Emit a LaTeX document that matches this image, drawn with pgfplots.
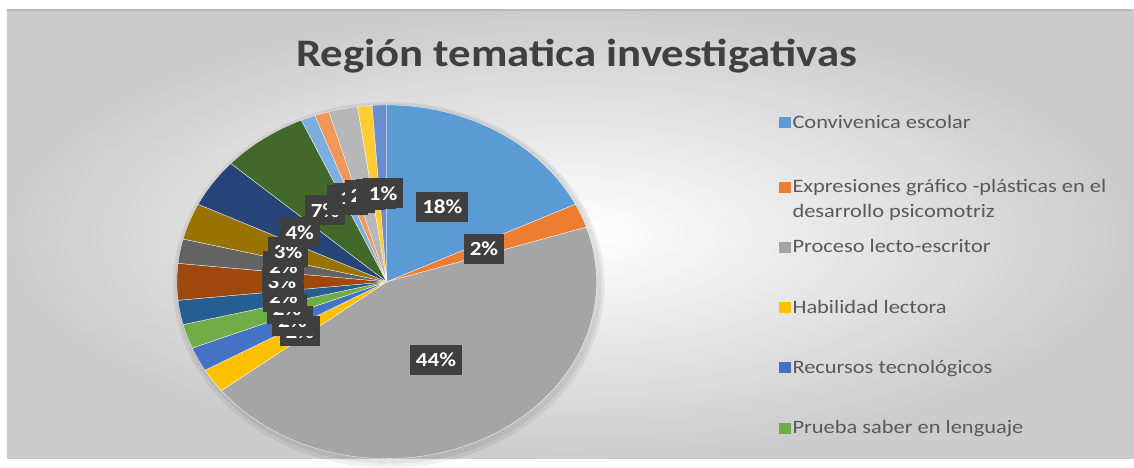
\documentclass[border=0pt]{standalone}
\usepackage{fontspec}
\setmainfont{Carlito}
\usepackage{graphicx}
\usepackage{pgfplots}
\pgfplotsset{compat=1.18}
\usepackage{pgfplotstable}
\definecolor{c0}{HTML}{5B9BD5}
\definecolor{c1}{HTML}{ED7D31}
\definecolor{c2}{HTML}{A5A5A5}
\definecolor{c3}{HTML}{FFC000}
\definecolor{c4}{HTML}{4472C4}
\definecolor{c5}{HTML}{70AD47}
\definecolor{c6}{HTML}{255E91}
\definecolor{c7}{HTML}{9E480E}
\definecolor{c8}{HTML}{636363}
\definecolor{c9}{HTML}{997300}
\definecolor{c10}{HTML}{264478}
\definecolor{c11}{HTML}{43682B}
\definecolor{c12}{HTML}{7CAFDD}
\definecolor{c13}{HTML}{F1975A}
\definecolor{c14}{HTML}{B7B7B7}
\definecolor{c15}{HTML}{FFCD33}
\definecolor{c16}{HTML}{698ED0}
\definecolor{txt}{HTML}{595959}
\definecolor{ttl}{HTML}{404040}
\definecolor{lbl}{HTML}{3F3F3F}

\begin{document}
% n = count of works per theme, pct = percentage shown on the chart
\pgfplotstableread{
n  pct
16 18
2  2
40 44
2  2
2  2
2  2
2  2
3  3
2  2
3  3
4  4
6  7
1  1
1  1
2  2
1  1
1  1
}\piedata
\begin{tikzpicture}
\fill[white] (0,0) rectangle (1134pt,459pt);
\shade[inner color=white, outer color=black!20] (7pt,0pt) rectangle (1134pt,449pt);
\draw[black!28, line width=1.5pt] (7pt,449pt) -- (1134pt,449pt);
\node[text=ttl, font=\fontsize{39}{44}\selectfont\bfseries, anchor=base]
  at (577pt,392pt) {\scalebox{1.15}[1]{Región tematica investigativas}};
% soft shadow of the pie
\fill[black, opacity=0.06] (389pt,174pt) ellipse (216pt and 183pt);
\fill[black, opacity=0.06] (389pt,175pt) ellipse (213pt and 180pt);
\begin{axis}[
  at={(387pt,177pt)}, anchor=center,
  scale only axis, width=420pt, height=354pt,
  xmin=-1, xmax=1, ymin=-1, ymax=1,
  hide axis, clip=false,
  pielabel/.style={forget plot, only marks, mark=none,
     point meta=explicit symbolic,
     nodes near coords={\scalebox{1.15}[1]{\pgfplotspointmeta\%}},
     nodes near coords align=center,
     every node near coord/.style={fill=lbl, text=white,
       font=\fontsize{20}{24}\selectfont\bfseries,
       inner xsep=6pt, inner ysep=0pt, minimum height=30pt, anchor=center}},
  legend image code/.code={\fill[#1, draw=none] (0pt,0pt) rectangle (12pt,11pt);},
  legend style={at={(1.433,0.978)}, anchor=north west, draw=none, fill=none,
     inner sep=0pt, row sep=41.6pt, column sep=0pt, text=txt,
     font=\fontsize{19}{25}\selectfont,
     cells={anchor=base west, inner xsep=0pt, inner ysep=0pt},
     /tikz/every even column/.style={column sep=10pt}},
]
\pgfplotstablegetrowsof{\piedata}
\pgfmathtruncatemacro\nrows{\pgfplotsretval-1}
\def\total{0}
\pgfplotsforeachungrouped \i in {0,...,\nrows}{%
  \pgfplotstablegetelem{\i}{n}\of\piedata
  \pgfmathsetmacro\total{\total+\pgfplotsretval}%
}
\def\startang{90}
\pgfplotsforeachungrouped \i in {0,...,\nrows}{%
  \pgfplotstablegetelem{\i}{n}\of\piedata
  \pgfmathsetmacro\endang{\startang - 360*\pgfplotsretval/\total}%
  \edef\temp{\noexpand\addplot[fill=c\i, draw=white, line width=0.3pt,
     domain=\endang:\startang, samples=60\ifnum\i>5 , forget plot\fi]
     ({cos(x)},{sin(x)}) -- (axis cs:0,0) -- cycle;}%
  \temp
  \let\startang\endang
}
\def\startang{90}
\pgfplotsforeachungrouped \i in {0,...,\nrows}{%
  \pgfplotstablegetelem{\i}{n}\of\piedata
  \pgfmathsetmacro\endang{\startang - 360*\pgfplotsretval/\total}%
  \pgfplotstablegetelem{\i}{pct}\of\piedata
  \let\pct\pgfplotsretval
  \pgfmathsetmacro\midang{(\startang+\endang)/2}%
  \pgfmathsetmacro\lx{0.5*cos(\midang)}%
  \pgfmathsetmacro\ly{0.5*sin(\midang)}%
  \edef\temp{\noexpand\addplot[pielabel] coordinates {(\lx,\ly) [\pct]};}%
  \temp
  \let\startang\endang
}
\addlegendentry{\scalebox{1.18}[1]{Convivenica escolar}}
\addlegendentry{\scalebox{1.18}[1]{\begin{tabular}[t]{@{}l@{}}Expresiones gráfico -plásticas en el\\desarrollo psicomotriz\end{tabular}}}
\addlegendentry{\scalebox{1.18}[1]{Proceso lecto-escritor}}
\addlegendentry{\scalebox{1.18}[1]{Habilidad lectora}}
\addlegendentry{\scalebox{1.18}[1]{Recursos tecnológicos}}
\addlegendentry{\scalebox{1.18}[1]{Prueba saber en lenguaje}}
\end{axis}
\end{tikzpicture}
\end{document}
